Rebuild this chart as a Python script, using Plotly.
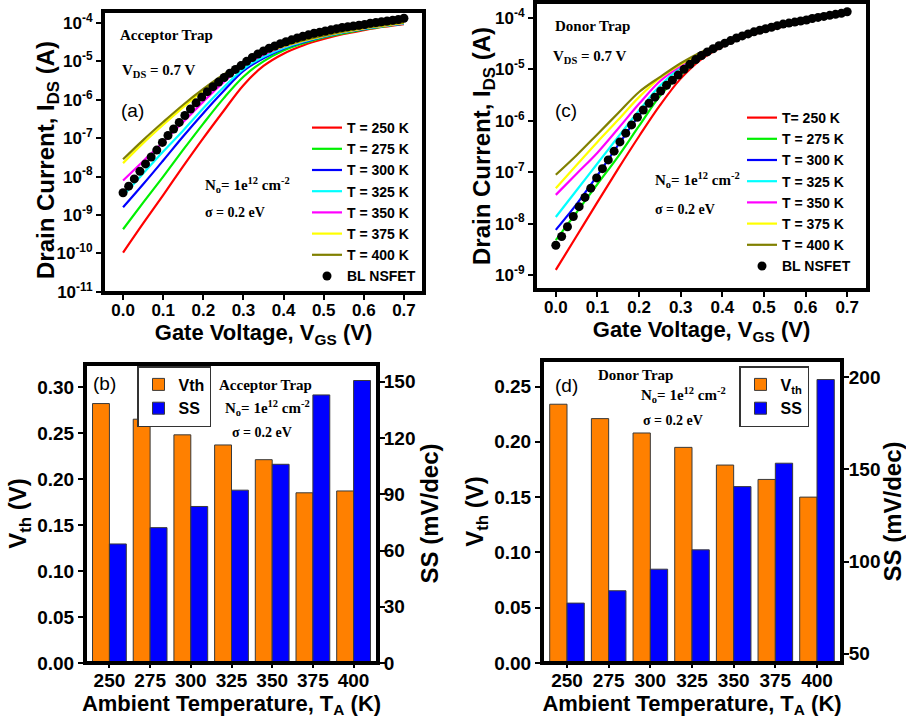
import plotly.graph_objects as go

W, H = 906, 727
SANS = "Liberation Sans"
SERIF = "Liberation Serif"

# ---------------- data ----------------
vgs = [0.0, 0.05, 0.10, 0.15, 0.20, 0.25, 0.30, 0.35, 0.40, 0.45, 0.50, 0.55, 0.60, 0.65, 0.70]
temps_lbl = ["250", "275", "300", "325", "350", "375", "400"]
colors = ["#FF0000", "#00F000", "#0000FF", "#00FFFF", "#FF00FF", "#FFFF00", "#808000"]

# log10(I_DS) – acceptor trap
a_250 = [-9.98, -9.22, -8.48, -7.73, -7.00, -6.30, -5.62, -5.12, -4.80, -4.58, -4.42, -4.29, -4.19, -4.10, -4.03]
a_275 = [-9.37, -8.68, -8.00, -7.30, -6.62, -5.97, -5.40, -5.00, -4.72, -4.53, -4.38, -4.27, -4.17, -4.09, -4.02]
a_300 = [-8.80, -8.20, -7.58, -6.95, -6.35, -5.78, -5.25, -4.92, -4.67, -4.50, -4.36, -4.25, -4.16, -4.08, -4.02]
a_325 = [-8.50, -7.92, -7.35, -6.80, -6.22, -5.68, -5.20, -4.88, -4.65, -4.48, -4.35, -4.24, -4.15, -4.08, -4.01]
a_350 = [-8.10, -7.60, -7.10, -6.58, -6.05, -5.55, -5.12, -4.83, -4.62, -4.46, -4.34, -4.23, -4.14, -4.07, -4.00]
a_375 = [-7.65, -7.13, -6.65, -6.19, -5.76, -5.38, -5.05, -4.79, -4.61, -4.46, -4.34, -4.23, -4.14, -4.07, -4.00]
a_400 = [-7.55, -7.05, -6.58, -6.13, -5.72, -5.35, -5.03, -4.78, -4.60, -4.45, -4.33, -4.22, -4.13, -4.06, -3.99]

# log10(I_DS) – donor trap
c_250 = [-8.90, -8.24, -7.58, -6.93, -6.30, -5.70, -5.18, -4.80, -4.56, -4.38, -4.26, -4.16, -4.07, -3.99, -3.91]
c_275 = [-8.32, -7.78, -7.23, -6.69, -6.10, -5.52, -5.10, -4.77, -4.54, -4.37, -4.25, -4.15, -4.06, -3.98, -3.90]
c_300 = [-8.12, -7.62, -7.06, -6.47, -5.90, -5.44, -5.06, -4.74, -4.52, -4.36, -4.24, -4.14, -4.05, -3.97, -3.90]
c_325 = [-7.87, -7.35, -6.83, -6.31, -5.80, -5.32, -4.96, -4.70, -4.52, -4.36, -4.24, -4.14, -4.05, -3.97, -3.90]
c_350 = [-7.44, -7.03, -6.62, -6.15, -5.67, -5.23, -4.93, -4.69, -4.51, -4.36, -4.24, -4.14, -4.05, -3.97, -3.90]
c_375 = [-7.31, -6.86, -6.41, -5.98, -5.54, -5.17, -4.90, -4.68, -4.51, -4.36, -4.24, -4.14, -4.05, -3.97, -3.90]
c_400 = [-7.05, -6.67, -6.26, -5.85, -5.44, -5.15, -4.88, -4.66, -4.50, -4.36, -4.24, -4.14, -4.05, -3.97, -3.90]

# BL NSFET reference dots (gate sweep step 0.014 V), log10(I_DS)
bl_vgs = [round(0.014 * i, 3) for i in range(51)]
bl_log = [-8.42, -8.25, -8.06, -7.86, -7.67, -7.49, -7.31, -7.11, -6.93, -6.76,
          -6.59, -6.41, -6.24, -6.08, -5.93, -5.79, -5.66, -5.54, -5.42, -5.31,
          -5.21, -5.11, -5.00, -4.90, -4.81, -4.73, -4.66, -4.60, -4.54, -4.49,
          -4.44, -4.39, -4.35, -4.31, -4.27, -4.24, -4.21, -4.18, -4.15, -4.12,
          -4.10, -4.08, -4.06, -4.04, -4.01, -3.99, -3.97, -3.95, -3.93, -3.91, -3.88]

# bar panels
b_vth = [0.282, 0.265, 0.248, 0.237, 0.221, 0.185, 0.187]
b_ss = [63.5, 72.2, 83.5, 92.2, 106.0, 143.0, 150.7]
d_vth = [0.234, 0.221, 0.208, 0.195, 0.179, 0.166, 0.150]
d_ss = [77.5, 84.2, 95.9, 106.4, 140.7, 153.4, 198.8]

# log-axis tick labels
a_decades = [-11, -10, -9, -8, -7, -6, -5, -4]
c_decades = [-9, -8, -7, -6, -5, -4]

a_curves = [a_250, a_275, a_300, a_325, a_350, a_375, a_400]
c_curves = [c_250, c_275, c_300, c_325, c_350, c_375, c_400]
a_names = ["T = %s K" % t for t in temps_lbl]
c_names = ["T= 250 K"] + ["T = %s K" % t for t in temps_lbl[1:]]

# axis windows (layout constants)
XR = [-0.05, 0.75]
A_YR = [-11.03, -3.69]
C_YR = [-9.29, -3.69]

# ---------------- figure ----------------
fig = go.Figure()

def p10(arr):
    return [10 ** v for v in arr]

for curves, names, xa, ya, lg in [(a_curves, a_names, "x", "y", "legend"),
                                  (c_curves, c_names, "x2", "y2", "legend2")]:
    for arr, nm, col in zip(curves, names, colors):
        fig.add_trace(go.Scatter(x=vgs, y=p10(arr), mode="lines", name=nm,
                                 line=dict(color=col, width=2.2, shape="spline"),
                                 xaxis=xa, yaxis=ya, legend=lg))
    fig.add_trace(go.Scatter(x=bl_vgs, y=p10(bl_log), mode="markers", name="BL NSFET",
                             marker=dict(color="black", size=9),
                             xaxis=xa, yaxis=ya, legend=lg))

ORANGE = "#FF8000"
BLUE = "#0000FF"
BW = 0.415
for vth, ss, xa, yl, yr, lg, vname in [(b_vth, b_ss, "x3", "y3", "y4", "legend3", "Vth"),
                                       (d_vth, d_ss, "x4", "y5", "y6", "legend4", "V<sub>th</sub>")]:
    fig.add_trace(go.Bar(x=temps_lbl, y=vth, name=vname, xaxis=xa, yaxis=yl, legend=lg,
                         width=BW, offset=-BW,
                         marker=dict(color=ORANGE, line=dict(color="#3a3a3a", width=1))))
    fig.add_trace(go.Bar(x=temps_lbl, y=ss, name="SS", xaxis=xa, yaxis=yr, legend=lg,
                         width=BW, offset=0,
                         marker=dict(color=BLUE, line=dict(color="#3a3a3a", width=1))))

# panel frames (plot-area borders) on hidden axes spanning [0,1] x [0,1]
frame_line = dict(color="black", width=4)
for fx, fy in [("x5", "y7"), ("x6", "y8"), ("x7", "y9"), ("x8", "y10")]:
    fig.add_trace(go.Scatter(x=[0, 1, 1, 0, 0], y=[0, 0, 1, 1, 0], mode="lines",
                             line=frame_line, xaxis=fx, yaxis=fy, showlegend=False, hoverinfo="skip"))

topfont = dict(family=SANS, size=17, color="black", weight="bold")
botfont = dict(family=SANS, size=19, color="black", weight="bold")
titlefont = dict(family=SANS, size=22, color="black", weight="bold")
ytitlefont = dict(family=SANS, size=24, color="black", weight="bold")

def ax(**kw):
    d = dict(showline=True, linecolor="#000000", linewidth=2, mirror=True,
             ticks="outside", ticklen=5, tickwidth=2, tickcolor="#000000",
             showgrid=False, zeroline=False, tickfont=botfont, automargin=False)
    d.update(kw)
    return d

def hidden(**kw):
    d = dict(visible=False, range=[0, 1], showgrid=False, zeroline=False, fixedrange=True)
    d.update(kw)
    return d

def dx(a, b):
    return [a / W, b / W]

def dy(top, bot):
    return [1 - bot / H, 1 - top / H]

panels = {"a": (103, 424, 11, 293), "c": (535, 868, 2, 290), "b": (85, 378, 364, 663), "d": (542, 842, 360, 663)}

fig.update_layout(
    width=W, height=H, margin=dict(l=0, r=0, t=0, b=0),
    paper_bgcolor="white", plot_bgcolor="rgba(0,0,0,0)",
    barmode="overlay", showlegend=True,
    xaxis=ax(domain=dx(*panels["a"][:2]), anchor="y", range=XR, dtick=0.1, tick0=0,
             tickformat=".1f", ticklabelstandoff=-4, tickfont=topfont,
             title=dict(text="Gate Voltage, V<sub>GS</sub> (V)", font=titlefont, standoff=5)),
    yaxis=ax(domain=dy(*panels["a"][2:]), anchor="x", type="log", range=A_YR,
             tickvals=[10 ** k for k in a_decades], ticktext=["10<sup>%d</sup>" % k for k in a_decades],
             tickfont=topfont),
    xaxis2=ax(domain=dx(*panels["c"][:2]), anchor="y2", range=XR, dtick=0.1, tick0=0,
              tickformat=".1f", ticklabelstandoff=-4, tickfont=topfont,
              title=dict(text="Gate Voltage, V<sub>GS</sub> (V)", font=titlefont, standoff=5)),
    yaxis2=ax(domain=dy(*panels["c"][2:]), anchor="x2", type="log", range=C_YR,
              tickvals=[10 ** k for k in c_decades], ticktext=["10<sup>%d</sup>" % k for k in c_decades],
              tickfont=topfont),
    xaxis3=ax(domain=dx(*panels["b"][:2]), anchor="y3", type="category", range=[-0.6, 6.6], ticklen=3,
              ticklabelstandoff=-4,
              title=dict(text="Ambient Temperature, T<sub>A</sub> (K)", font=titlefont, standoff=2)),
    yaxis3=ax(domain=dy(*panels["b"][2:]), anchor="x3", range=[0, 0.325], dtick=0.05, tickformat=".2f",
              title=dict(text="V<sub>th</sub> (V)", font=ytitlefont, standoff=4)),
    yaxis4=ax(domain=dy(*panels["b"][2:]), anchor="x3", overlaying="y3", side="right", range=[0, 159.5], dtick=30,
              ticklabelstandoff=-5,
              title=dict(text="SS (mV/dec)", font=ytitlefont, standoff=2)),
    xaxis4=ax(domain=dx(*panels["d"][:2]), anchor="y5", type="category", range=[-0.6, 6.6], ticklen=3,
              ticklabelstandoff=-4,
              title=dict(text="Ambient Temperature, T<sub>A</sub> (K)", font=titlefont, standoff=2)),
    yaxis5=ax(domain=dy(*panels["d"][2:]), anchor="x4", range=[0, 0.274], dtick=0.05, tickformat=".2f",
              title=dict(text="V<sub>th</sub> (V)", font=ytitlefont, standoff=4)),
    yaxis6=ax(domain=dy(*panels["d"][2:]), anchor="x4", overlaying="y5", side="right", range=[45, 209.4], tick0=50, dtick=50,
              ticklabelstandoff=-4,
              title=dict(text="SS (mV/dec)", font=ytitlefont, standoff=0)),
    xaxis5=hidden(domain=dx(*panels["a"][:2]), anchor="y7"),
    yaxis7=hidden(domain=dy(*panels["a"][2:]), anchor="x5"),
    xaxis6=hidden(domain=dx(*panels["c"][:2]), anchor="y8"),
    yaxis8=hidden(domain=dy(*panels["c"][2:]), anchor="x6"),
    xaxis7=hidden(overlaying="x3", anchor="y9"), yaxis9=hidden(overlaying="y3", anchor="x7"),
    xaxis8=hidden(overlaying="x4", anchor="y10"), yaxis10=hidden(overlaying="y5", anchor="x8"),
    legend=dict(x=307 / W, y=1 - 112 / H, xanchor="left", yanchor="top", bgcolor="rgba(0,0,0,0)",
                font=dict(family=SANS, size=14, color="black", weight="bold"), tracegroupgap=0),
    legend2=dict(x=742 / W, y=1 - 102 / H, xanchor="left", yanchor="top", bgcolor="rgba(0,0,0,0)",
                 font=dict(family=SANS, size=14, color="black", weight="bold"), tracegroupgap=0),
    legend3=dict(x=137 / W, y=1 - 366 / H, xanchor="left", yanchor="top", bgcolor="white",
                 bordercolor="#333", borderwidth=1.5,
                 font=dict(family=SANS, size=16, color="black", weight="bold")),
    legend4=dict(x=739 / W, y=1 - 366 / H, xanchor="left", yanchor="top", bgcolor="white",
                 bordercolor="#333", borderwidth=1.5,
                 font=dict(family=SANS, size=16, color="black", weight="bold")),
)

serif = dict(family=SERIF, size=15, color="black", weight="bold")
serif_s = dict(family=SERIF, size=14, color="black", weight="bold")
sans_reg = dict(family=SANS, size=19, color="black")
anns = [
    # panel (a)
    (118, 35, "Acceptor Trap", serif, "left"),
    (120, 71, "V<sub>DS</sub> = 0.7 V", serif, "left"),
    (119, 110, "(a)", sans_reg, "left"),
    (203, 185, "N<sub>o</sub>= 1e<sup>12</sup> cm<sup>-2</sup>", serif, "left"),
    (203, 212, "σ = 0.2 eV", serif_s, "left"),
    # panel (c)
    (553, 26, "Donor Trap", serif, "left"),
    (551, 57, "V<sub>DS</sub> = 0.7 V", serif, "left"),
    (553, 110, "(c)", sans_reg, "left"),
    (653, 180, "N<sub>o</sub>= 1e<sup>12</sup> cm<sup>-2</sup>", serif, "left"),
    (653, 209, "σ = 0.2 eV", serif_s, "left"),
    # panel (b)
    (91, 383, "(b)", sans_reg, "left"),
    (265, 385, "Acceptor Trap", serif, "center"),
    (267, 408, "N<sub>o</sub>= 1e<sup>12</sup> cm<sup>-2</sup>", serif, "center"),
    (262, 432, "σ = 0.2 eV", serif_s, "center"),
    # panel (d)
    (553, 385, "(d)", sans_reg, "left"),
    (635, 375, "Donor Trap", serif, "center"),
    (683, 395, "N<sub>o</sub>= 1e<sup>12</sup> cm<sup>-2</sup>", serif, "center"),
    (673, 420, "σ = 0.2 eV", serif_s, "center"),
]
for x, y, t, f, al in anns:
    fig.add_annotation(x=x / W, y=1 - y / H, xref="paper", yref="paper", text=t, showarrow=False,
                       font=f, xanchor=al, yanchor="middle")

# rotated y titles of the two I-V panels
for x, y in [(47, 160), (483, 146)]:
    fig.add_annotation(x=x / W, y=1 - y / H, xref="paper", yref="paper",
                       text="Drain Current, I<sub>DS</sub> (A)", textangle=-90, showarrow=False,
                       font=ytitlefont, xanchor="center", yanchor="middle")

fig.write_html("out.html", config={"displayModeBar": False},
               post_script="document.body.style.margin='0';document.body.style.overflow='hidden';")
